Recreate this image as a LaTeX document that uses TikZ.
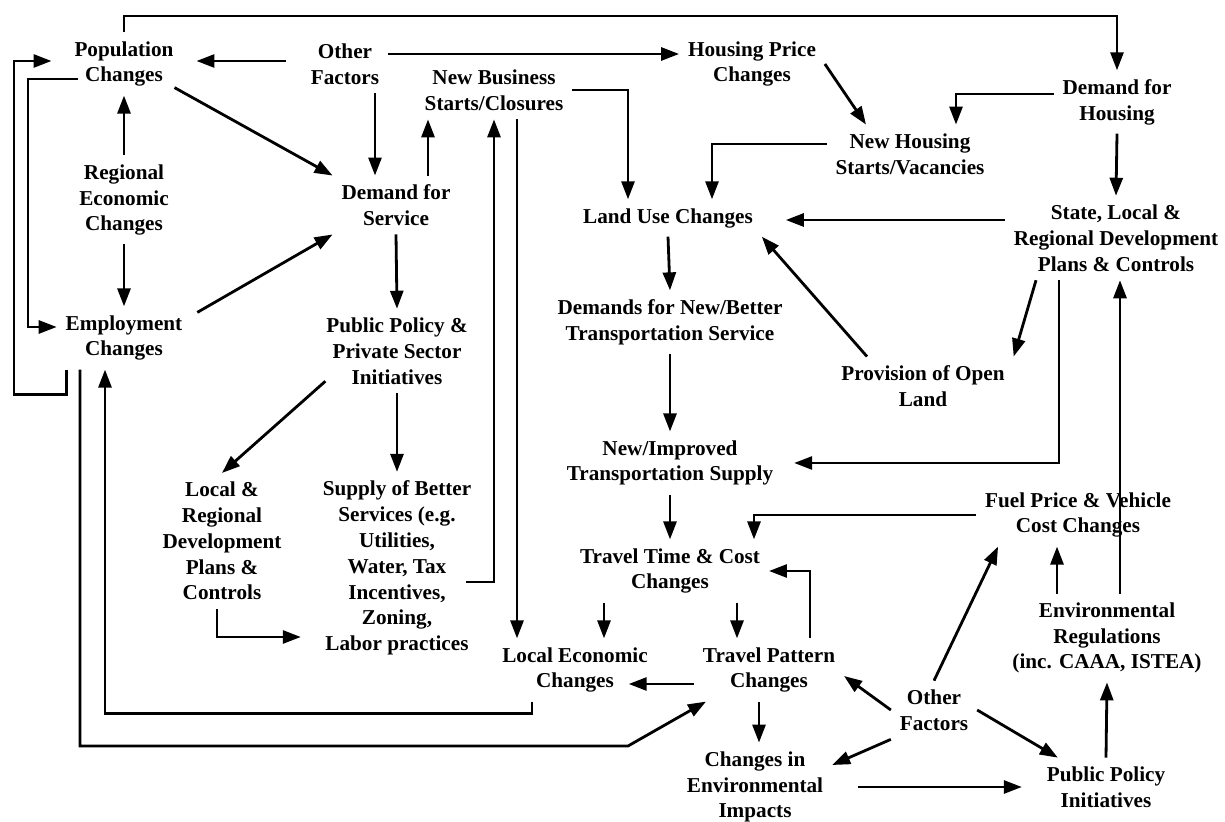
\documentclass[tikz,border=0pt]{standalone}
\usepackage{fontspec}
\setmainfont{Liberation Serif}
\usetikzlibrary{arrows.meta}

\begin{document}
\begin{tikzpicture}[x=0.5pt,y=-0.5pt,
  box/.style={align=center,font=\fontsize{10.6}{12.9}\selectfont\bfseries,inner sep=1.5pt,outer sep=3pt},
  arr/.style={-{Triangle[length=9pt,width=6.5pt]},line width=1.4pt}]
\useasboundingbox (0,0) rectangle (1225,822);

\node[box] (pop) at (124,64) {Population\\Changes};
\node[box] (oth) at (345,64) {Other\\Factors};
\node[box] (nbs) at (494,90) {New Business\\Starts/Closures};
\node[box] (hpc) at (752,64) {Housing Price\\Changes};
\node[box] (dfh) at (1117,102) {Demand for\\Housing};
\node[box] (nhs) at (910,154) {New Housing\\Starts/Vacancies};
\node[box] (rec) at (124,200) {Regional\\Economic\\Changes};
\node[box] (dfs) at (396,205) {Demand for\\Service};
\node[box] (luc) at (668,218) {Land Use Changes};
\node[box] (slr) at (1116,238) {State, Local \&\\Regional Development\\Plans \& Controls};
\node[box] (emp) at (124,338) {Employment\\Changes};
\node[box] (pps) at (397,351) {Public Policy \&\\Private Sector\\Initiatives};
\node[box] (dnb) at (670,322) {Demands for New/Better\\Transportation Service};
\node[box] (pol) at (923,386) {Provision of Open\\Land};
\node[box] (nit) at (670,463) {New/Improved\\Transportation Supply};
\node[box] (ldp) at (222,541) {Local \&\\Regional\\Development\\Plans \&\\Controls};
\node[box] (sbs) at (397,568) {Supply of Better\\Services (e.g.\\Utilities,\\Water, Tax\\Incentives,\\Zoning,\\Labor practices};
\node[box] (fpv) at (1078,515) {Fuel Price \& Vehicle\\Cost Changes};
\node[box] (ttc) at (670,571) {Travel Time \& Cost\\Changes};
\node[box] (env) at (1107,638) {Environmental\\Regulations\\(inc. CAAA, ISTEA)};
\node[box] (lec) at (575,670) {Local Economic\\Changes};
\node[box] (tpc) at (769,670) {Travel Pattern\\Changes};
\node[box] (oth2) at (934,710) {Other\\Factors};
\node[box] (cei) at (755,787) {Changes in\\Environmental\\Impacts};
\node[box] (ppi) at (1106,787) {Public Policy\\Initiatives};

\coordinate (top) at (600,16);
\coordinate (lout) at (14,0);
\coordinate (lin) at (28,0);
\coordinate (bend) at (628,746);
\coordinate (popA) at ([xshift=-7pt,yshift=1.5pt]pop.west);
\coordinate (popB) at ([xshift=6pt,yshift=-7.5pt]pop.west);
\coordinate (empA) at ([yshift=5.5pt]emp.west);

\draw[arr] (pop.north) |- (top) -| (dfh.north);
\draw[arr] ([xshift=5pt]emp.south west) -- ++(0,25) -| (lout |- popA) -- (popA);
\draw[arr] (popB) -| (lin |- empA) -- (empA);
\draw[arr] ([xshift=-8pt,yshift=1.5pt]oth.west) -- ([xshift=7pt,yshift=1.5pt]pop.east);
\draw[arr] ([yshift=5pt]oth.east) -- ([yshift=5pt]hpc.west);
\draw[arr] ([xshift=15pt]oth.south) -- ([xshift=15pt]oth.south |- dfs.north);
\draw[arr] ([xshift=-4pt,yshift=4pt]pop.south east) -- (dfs.north west);
\draw[arr] (rec.north) -- (pop.south);
\draw[arr] (rec.south) -- (emp.north);
\draw[arr] ([xshift=3pt,yshift=-3pt]emp.north east) -- (dfs.south west);
\draw[arr] (dfs.south) -- (pps.north);
\draw[arr] ([xshift=16pt]dfs.north) -- ([xshift=16pt]dfs.north |- nbs.south);
\draw[arr] ([xshift=-7pt,yshift=-7pt]sbs.east) -| (nbs.south);
\draw[arr] ([xshift=11.5pt]nbs.south) -- ([xshift=11.5pt]nbs.south |- lec.north);
\draw[arr] (nbs.east) -| ([xshift=-20pt]luc.north);
\draw[arr] (hpc.east) -- ([xshift=-22pt]nhs.north);
\draw[arr] ([yshift=4pt]dfh.west) -| ([xshift=23pt]nhs.north);
\draw[arr] (dfh.south) -- (slr.north);
\draw[arr] ([yshift=5pt]nhs.west) -| ([xshift=22pt]luc.north);
\draw[arr] ([yshift=9pt]slr.west) -- ([xshift=12pt,yshift=-1pt]luc.east);
\draw[arr] ([xshift=-28pt]pol.north) -- (luc.south east);
\draw[arr] (luc.south) -- (dnb.north);
\draw[arr] ([xshift=-40pt]slr.south) -- (pol.north east);
\draw[arr] ([xshift=-28.5pt]slr.south) |- ([xshift=6pt]nit.east);
\draw[arr] (dnb.south) -- (nit.north);
\draw[arr] (nit.south) -- (ttc.north);
\draw[arr] (fpv.west) -| ([xshift=42pt]ttc.north);
\draw[arr] ([xshift=-25pt]env.north) -- ([xshift=-25pt]env.north |- fpv.south);
\draw[arr] ([xshift=6.5pt]env.north) -- ([xshift=6.5pt]env.north |- slr.south);
\draw[arr] ([xshift=-33pt]ttc.south) -- ([xshift=-33pt]ttc.south |- lec.north);
\draw[arr] ([xshift=33.5pt]ttc.south) -- ([xshift=33.5pt]ttc.south |- tpc.north);
\draw[arr] ([xshift=20.5pt]tpc.north) |- (ttc.east);
\draw[arr] ([yshift=-7pt]tpc.west) -- ([xshift=-14pt,yshift=-7pt]lec.east);
\draw[arr] ([xshift=-21.5pt]lec.south) -- ++(0,12) -| ([xshift=-9.5pt]emp.south);
\draw[arr] ([xshift=-22pt]emp.south) |- (bend) -- ([xshift=6pt]tpc.south west);
\draw[arr] ([xshift=4pt,yshift=6pt]pps.south west) -- (ldp.north);
\draw[arr] (pps.south) -- (sbs.north);
\draw[arr] ([xshift=-2.5pt]ldp.south) |- ([xshift=-6.5pt,yshift=-34.5pt]sbs.west);
\draw[arr] ([xshift=-5pt]tpc.south) -- ([xshift=-5pt]tpc.south |- cei.north);
\draw[arr] (oth2.west) -- ([yshift=-3pt]tpc.east);
\draw[arr] (oth2.south west) -- ([yshift=11pt]cei.east);
\draw[arr] (oth2.east) -- ([xshift=10pt]ppi.north west);
\draw[arr] (oth2.north) -- ([xshift=11pt]fpv.south west);
\draw[arr] ([xshift=13pt]cei.east) -- ([xshift=-8pt]ppi.west);
\draw[arr] (ppi.north) -- (env.south);
\end{tikzpicture}
\end{document}
